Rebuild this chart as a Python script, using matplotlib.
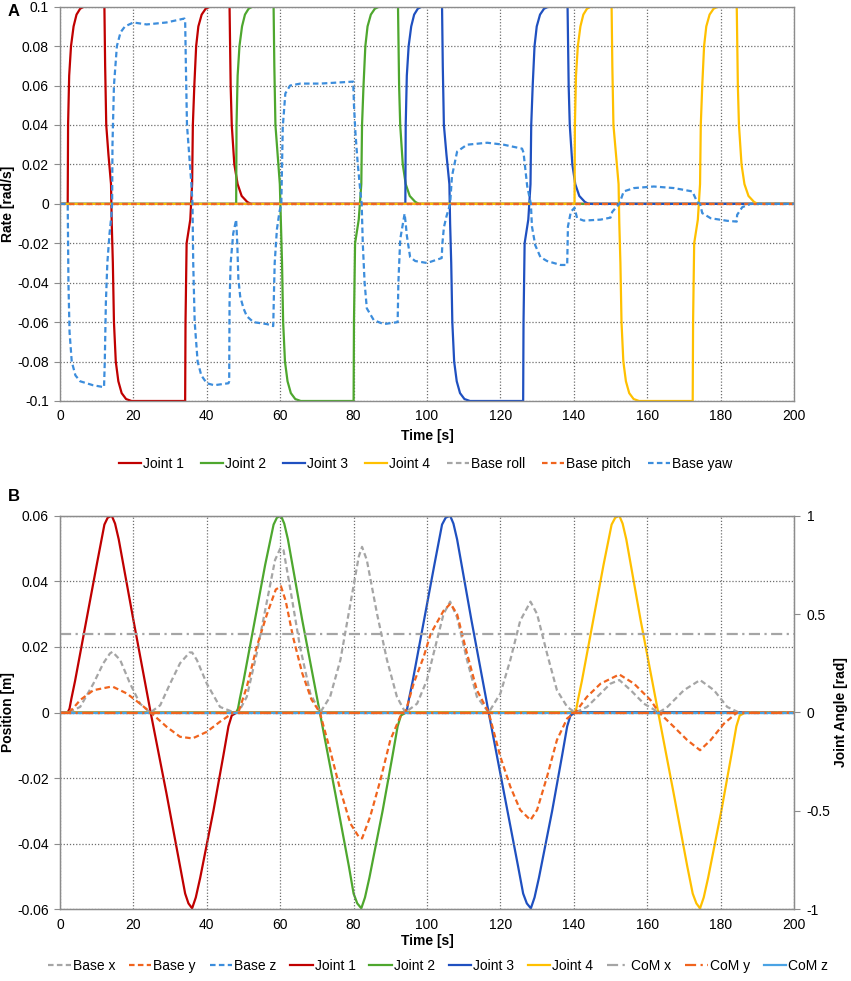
import matplotlib
matplotlib.use("Agg")
import matplotlib.pyplot as plt
from matplotlib.ticker import FuncFormatter

plt.rcParams["font.family"] = ["Liberation Sans", "DejaVu Sans"]
plt.rcParams["axes.unicode_minus"] = False

# ---- panel A: rates [rad/s] ----
# one read-off joint-rate profile, each joint has its own time stamps
JOINT_RATE = [0, 0, 0.04, 0.065, 0.08, 0.09, 0.096, 0.099, 0.1,
              0.1, 0.07, 0.04, 0.025, 0.01,
              -0.01, -0.03, -0.06, -0.08, -0.09, -0.096, -0.099, -0.1,
              -0.1, -0.06, -0.02, -0.014, -0.008,
              0.01, 0.04, 0.06, 0.08, 0.09, 0.096, 0.099, 0.1,
              0.1, 0.06, 0.04, 0.02, 0.01, 0.004, 0.001, 0, 0]
T_J1 = [0, 2.1, 2.2, 2.5, 3.0, 3.7, 4.5, 5.5, 6.5, 12.1, 12.3, 12.6, 13.2, 13.9,
        14.1, 14.4, 14.7, 15.2, 15.9, 16.8, 18.0, 19.5, 34.1, 34.2, 34.5, 35.0, 35.5,
        36.0, 36.2, 36.6, 37.1, 37.7, 38.6, 39.7, 40.9, 46.2, 46.5, 46.8, 47.5, 48.4,
        49.5, 51.0, 52.0, 200]
T_J2 = [0, 48.0, 48.1, 48.4, 48.9, 49.6, 50.4, 51.4, 52.4, 58.2, 58.4, 58.7, 59.3, 59.9,
        60.2, 60.5, 60.8, 61.3, 62.0, 62.9, 64.1, 65.6, 80.0, 80.1, 80.4, 80.9, 81.4,
        82.1, 82.3, 82.7, 83.2, 83.8, 84.7, 85.8, 87.0, 92.1, 92.4, 92.7, 93.4, 94.2,
        95.3, 96.8, 97.8, 200]
T_J3 = [0, 94.1, 94.2, 94.5, 95.0, 95.7, 96.5, 97.5, 98.5, 104.1, 104.3, 104.6, 105.3, 106.1,
        106.3, 106.6, 106.9, 107.4, 108.1, 109.0, 110.2, 111.7, 126.2, 126.3, 126.6, 127.1, 127.6,
        128.2, 128.4, 128.8, 129.3, 129.9, 130.8, 131.9, 133.1, 138.3, 138.6, 138.9, 139.6, 140.4,
        141.5, 143.0, 144.0, 200]
T_J4 = [0, 140.2, 140.3, 140.6, 141.1, 141.8, 142.6, 143.6, 144.6, 150.3, 150.5, 150.8, 151.5, 152.2,
        152.4, 152.7, 153.0, 153.5, 154.2, 155.1, 156.3, 157.8, 172.4, 172.5, 172.8, 173.3, 173.8,
        174.4, 174.6, 175.0, 175.5, 176.1, 177.0, 178.1, 179.3, 184.4, 184.7, 185.0, 185.7, 186.5,
        187.6, 189.1, 190.1, 200]
BASE_ROLL_RATE = [(0, 0), (200, 0)]
BASE_PITCH_RATE = [(0, 0), (200, 0)]
BASE_YAW_RATE = [
    (0, 0), (2.1, 0), (2.3, -0.04), (2.6, -0.065), (3.2, -0.08), (4.2, -0.087), (5.5, -0.09),
    (9.0, -0.092), (12.0, -0.093), (12.2, -0.08), (12.5, -0.05), (12.9, -0.03), (13.5, -0.015),
    (14.0, -0.006), (14.2, 0.0), (14.3, 0.03), (14.7, 0.06), (15.5, 0.08), (16.5, 0.087),
    (17.7, 0.09), (20.0, 0.092), (23.6, 0.091), (29.0, 0.092), (33.9, 0.094), (34.1, 0.093),
    (34.3, 0.07), (34.6, 0.04), (35.2, 0.025), (35.8, 0.01), (36.1, 0.0), (36.3, -0.03),
    (36.7, -0.06), (37.5, -0.08), (38.5, -0.087), (40.0, -0.091), (42.0, -0.092), (45.9, -0.091),
    (46.1, -0.09), (46.2, -0.05), (46.5, -0.03), (47.2, -0.015), (48.0, -0.008), (48.3, -0.02),
    (48.6, -0.038), (49.1, -0.047), (50.0, -0.053), (50.9, -0.057), (52.7, -0.06), (56.4, -0.061),
    (58.1, -0.062), (58.3, -0.045), (58.5, -0.03), (59.1, -0.013), (59.8, -0.004), (60.3, 0.0),
    (60.7, 0.039), (61.4, 0.056), (62.7, 0.06), (65.5, 0.061), (70.9, 0.061), (79.9, 0.062),
    (80.1, 0.05), (80.5, 0.036), (81.1, 0.021), (81.8, 0.007), (82.2, 0.0), (82.5, -0.02),
    (83.0, -0.04), (83.6, -0.053), (85.5, -0.059), (88.2, -0.061), (92.0, -0.06), (92.2, -0.04),
    (92.7, -0.018), (93.9, -0.005), (94.2, -0.01), (94.5, -0.016), (95.4, -0.027), (96.8, -0.029),
    (100.0, -0.03), (104.0, -0.0275), (104.2, -0.02), (104.6, -0.012), (105.3, -0.0064),
    (106.3, 0.0), (106.8, 0.014), (108.2, 0.0265), (110.9, 0.030), (116.4, 0.031), (120.9, 0.030),
    (125.9, 0.028), (126.3, 0.026), (127.3, 0.009), (128.3, 0.0), (128.6, -0.0115), (129.5, -0.021),
    (130.9, -0.027), (132.7, -0.029), (136.4, -0.031), (138.2, -0.031), (138.4, -0.0115),
    (139.2, -0.004), (140.2, -0.002), (140.9, -0.0073), (142.7, -0.0085), (147.3, -0.008),
    (150.0, -0.007), (150.5, -0.004), (152.4, 0.0), (153.6, 0.0063), (156.4, 0.008),
    (161.8, 0.0088), (167.3, 0.008), (172.3, 0.0063), (173.6, 0.001), (174.4, 0.0),
    (175.0, -0.0047), (177.3, -0.0073), (181.8, -0.0086), (184.4, -0.009), (184.5, -0.0056),
    (185.9, -0.0017), (188.2, 0.0), (200, 0)]

# ---- panel B: joint angles [rad] (right axis) ----
JOINT_ANGLE = [0, 0, 0.02, 0.07, 0.16, 0.35, 0.55, 0.75, 0.955,
               0.99, 1.0, 0.96, 0.88, 0.47, 0.0,
               -0.41, -0.78, -0.92, -0.97, -0.995,
               -0.94, -0.84, -0.5, -0.22, -0.07, -0.015, 0, 0]
T_A1 = [0, 2.1, 2.6, 3.1, 4.1, 6.0, 8.0, 10.0, 12.1, 13.0, 14.1, 15.0, 16.0, 20.0, 24.7,
        29.0, 32.7, 34.1, 35.0, 36.0, 37.0, 38.2, 41.8, 44.5, 45.9, 46.8, 48.2, 200]
T_A2 = [0, 48.0, 48.5, 49.0, 50.0, 51.9, 53.9, 55.9, 58.2, 59.1, 60.2, 61.1, 62.1, 66.0, 70.8,
        75.0, 78.7, 80.0, 81.0, 82.1, 83.1, 84.3, 87.9, 90.6, 92.0, 92.9, 94.3, 200]
T_A3 = [0, 94.1, 94.6, 95.1, 96.1, 98.0, 100.0, 102.0, 104.1, 105.1, 106.3, 107.2, 108.2, 112.1, 116.8,
        121.0, 124.8, 126.2, 127.2, 128.3, 129.3, 130.5, 134.1, 136.8, 138.2, 139.1, 140.5, 200]
T_A4 = [0, 140.2, 140.7, 141.2, 142.2, 144.1, 146.1, 148.1, 150.3, 151.3, 152.4, 153.3, 154.3, 158.2, 163.0,
        167.2, 170.9, 172.4, 173.4, 174.4, 175.4, 176.6, 180.2, 182.9, 184.3, 185.2, 186.8, 200]

# ---- panel B: positions [m] (left axis) ----
BASE_X = [
    (0, 0), (2.3, 0), (5.5, 0.0017), (9.1, 0.0088), (11.8, 0.015), (13.6, 0.018), (14.3, 0.0185),
    (16.4, 0.016), (19.1, 0.0088), (21.8, 0.0027), (24.6, 0), (27.3, 0.0022), (30.0, 0.0088),
    (32.7, 0.015), (35.3, 0.0183), (36.0, 0.0183), (37.3, 0.016), (40.0, 0.0088), (43.6, 0.0017),
    (47.5, 0), (48.6, 0), (50.9, 0.0048), (53.6, 0.018), (56.4, 0.034), (58.6, 0.0465),
    (60.1, 0.0502), (60.9, 0.0495), (62.7, 0.038), (65.4, 0.020), (68.2, 0.0058), (70.9, 0),
    (73.6, 0.0048), (76.4, 0.016), (79.1, 0.033), (81.4, 0.0475), (82.3, 0.0505), (83.6, 0.0465),
    (86.4, 0.030), (89.1, 0.016), (91.8, 0.0048), (94.1, 0), (97.3, 0.0027), (100.0, 0.0099),
    (101.8, 0.018), (104.5, 0.030), (106.3, 0.0338), (108.2, 0.029), (110.9, 0.016),
    (113.6, 0.0048), (116.8, 0), (120.0, 0.0058), (122.7, 0.016), (125.4, 0.028), (128.2, 0.0338),
    (130.0, 0.030), (132.7, 0.018), (135.4, 0.0068), (138.2, 0.0017), (140.4, 0), (143.6, 0.0017),
    (147.3, 0.0058), (150.0, 0.0088), (152.4, 0.0099), (155.5, 0.0068), (159.1, 0.0027),
    (163.2, 0), (165.5, 0.0017), (170.0, 0.0068), (174.4, 0.0099), (178.2, 0.0068),
    (181.8, 0.0017), (185.0, 0), (200, 0)]
BASE_Y = [
    (0, 0), (2.3, 0), (3.5, 0.0012), (5.5, 0.0038), (9.1, 0.0068), (13.6, 0.0078), (14.5, 0.0078),
    (18.2, 0.0058), (21.8, 0.0027), (24.7, 0), (29.1, -0.0044), (32.7, -0.0074), (36.1, -0.0079),
    (40.0, -0.0059), (43.6, -0.0028), (47.3, 0), (48.6, 0), (50.9, 0.0078), (53.6, 0.020),
    (56.4, 0.030), (58.8, 0.0375), (60.2, 0.0385), (61.5, 0.034), (63.5, 0.023), (66.0, 0.012),
    (68.5, 0.004), (70.8, 0), (73.6, -0.0115), (76.4, -0.0237), (79.1, -0.0338), (81.4, -0.0379),
    (82.3, -0.0384), (84.5, -0.0318), (87.3, -0.0206), (90.0, -0.0084), (92.7, -0.0013),
    (94.1, 0), (96.4, 0.009), (99.1, 0.017), (101.0, 0.024), (104.5, 0.031), (106.4, 0.0332),
    (108.2, 0.030), (110.9, 0.018), (113.6, 0.0068), (116.8, 0), (120.0, -0.0135),
    (122.7, -0.0226), (125.4, -0.0297), (128.2, -0.0328), (130.0, -0.0297), (132.7, -0.0196),
    (135.4, -0.0084), (138.2, -0.0018), (140.4, 0), (143.6, 0.0048), (147.3, 0.0088),
    (152.4, 0.0116), (156.4, 0.0088), (160.9, 0.0038), (163.2, 0), (167.3, -0.0044),
    (170.9, -0.0084), (174.4, -0.0115), (177.3, -0.0084), (180.9, -0.0034), (184.5, 0), (200, 0)]
BASE_Z = [(0, 0), (200, 0)]
COM_X = [(0, 0.024), (200, 0.024)]
COM_Y = [(0, 0), (200, 0)]
COM_Z = [(0, 0), (200, 0)]

RATE_TICKS = [-0.1, -0.08, -0.06, -0.04, -0.02, 0, 0.02, 0.04, 0.06, 0.08, 0.1]
POS_TICKS = [-0.06, -0.04, -0.02, 0, 0.02, 0.04, 0.06]
ANGLE_TICKS = [-1, -0.5, 0, 0.5, 1]
TIME_TICKS = [0, 20, 40, 60, 80, 100, 120, 140, 160, 180, 200]

RED, GREEN, BLUE, YELLOW = "#C00000", "#4EA72E", "#1F50C0", "#FFC000"
GRAY, ORANGE, SKY, LIGHTSKY = "#A5A5A5", "#F0641E", "#3C8DDC", "#4AA3E4"
AXC = "#8C8C8C"
DASH = (2.5, 1.5)
DASHDOT = (5, 2, 1, 2)
LW = 1.6

fmt = FuncFormatter(lambda v, p: f"{v:g}")


def xy(pairs):
    return [p[0] for p in pairs], [p[1] for p in pairs]


def style(ax):
    ax.set_xlim(0, 200)
    ax.set_xticks(TIME_TICKS)
    ax.xaxis.set_major_formatter(fmt)
    ax.yaxis.set_major_formatter(fmt)
    ax.grid(True, color="#6E6E6E", linestyle=(0, (1, 1.5)), linewidth=0.9)
    for s in ax.spines.values():
        s.set_color(AXC)
        s.set_linewidth(1.0)
    ax.tick_params(colors=AXC, labelcolor="black", labelsize=10, length=4, pad=4)
    ax.tick_params(axis="x", length=0, pad=6)
    ax.set_xlabel("Time [s]", fontsize=10, fontweight="bold")


fig = plt.figure(figsize=(8.51, 9.81), dpi=100)

# ---------------- panel A ----------------
axA = fig.add_axes([60 / 851, 1 - 401 / 981, 734 / 851, 394.3 / 981])
for t, lab, c in [(T_J1, "Joint 1", RED), (T_J2, "Joint 2", GREEN),
                  (T_J3, "Joint 3", BLUE), (T_J4, "Joint 4", YELLOW)]:
    axA.plot(t, JOINT_RATE, color=c, lw=LW, label=lab)
axA.plot(*xy(BASE_ROLL_RATE), color=GRAY, lw=LW, dashes=DASH, label="Base roll")
axA.plot(*xy(BASE_PITCH_RATE), color=ORANGE, lw=LW, dashes=DASH, label="Base pitch")
axA.plot(*xy(BASE_YAW_RATE), color=SKY, lw=LW, dashes=DASH, label="Base yaw")
style(axA)
axA.set_ylim(-0.1, 0.1)
axA.set_yticks(RATE_TICKS)
axA.set_ylabel("Rate [rad/s]", fontsize=10, fontweight="bold", va="center")
axA.yaxis.set_label_coords(-0.071, 0.5)
axA.xaxis.set_label_coords(0.5, -0.071)
fig.legend(*axA.get_legend_handles_labels(), loc="center", bbox_to_anchor=(0.5, 1 - 464 / 981),
           ncol=7, frameon=False, fontsize=10, handlelength=1.6, handletextpad=0.15,
           columnspacing=1.2)

# ---------------- panel B ----------------
axB = fig.add_axes([60 / 851, 1 - 909.3 / 981, 734 / 851, 393.6 / 981])
axJ = axB.twinx()
hb = {}
hb["Base x"], = axB.plot(*xy(BASE_X), color=GRAY, lw=LW, dashes=DASH, label="Base x")
hb["Base y"], = axB.plot(*xy(BASE_Y), color=ORANGE, lw=LW, dashes=DASH, label="Base y")
hb["Base z"], = axB.plot(*xy(BASE_Z), color=SKY, lw=LW, dashes=DASH, label="Base z")
hb["CoM x"], = axB.plot(*xy(COM_X), color=GRAY, lw=LW, dashes=DASHDOT, label="CoM x")
hb["CoM z"], = axB.plot(*xy(COM_Z), color=LIGHTSKY, lw=LW, label="CoM z")
hb["CoM y"], = axB.plot(*xy(COM_Y), color=ORANGE, lw=LW, dashes=DASHDOT, label="CoM y")
for t, lab, c in [(T_A1, "Joint 1", RED), (T_A2, "Joint 2", GREEN),
                  (T_A3, "Joint 3", BLUE), (T_A4, "Joint 4", YELLOW)]:
    hb[lab], = axJ.plot(t, JOINT_ANGLE, color=c, lw=LW, label=lab)
# position axis drawn over the joint-angle axis
axB.set_zorder(axJ.get_zorder() + 1)
axB.patch.set_visible(False)

style(axB)
axB.set_ylim(-0.06, 0.06)
axB.set_yticks(POS_TICKS)
axB.set_ylabel("Position [m]", fontsize=10, fontweight="bold", va="center")
axB.yaxis.set_label_coords(-0.071, 0.5)
axB.xaxis.set_label_coords(0.5, -0.062)

axJ.set_ylim(-1, 1)
axJ.set_yticks(ANGLE_TICKS)
axJ.yaxis.set_major_formatter(fmt)
for s in axJ.spines.values():
    s.set_color(AXC)
axJ.tick_params(colors=AXC, labelcolor="black", labelsize=10, length=4, pad=5)
axJ.set_ylabel("Joint Angle [rad]", fontsize=10, fontweight="bold", va="center", rotation=90)
axJ.yaxis.set_label_coords(1.064, 0.5)

order = ["Base x", "Base y", "Base z", "Joint 1", "Joint 2", "Joint 3", "Joint 4",
         "CoM x", "CoM y", "CoM z"]
fig.legend([hb[k] for k in order], order, loc="center", bbox_to_anchor=(0.515, 1 - 966 / 981),
           ncol=10, frameon=False, fontsize=10, handlelength=1.6, handletextpad=0.15,
           columnspacing=1.0)

fig.text(8 / 851, 1 - 12 / 981, "A", fontsize=12, fontweight="bold", va="center", ha="left")
fig.text(8 / 851, 1 - 497 / 981, "B", fontsize=12, fontweight="bold", va="center", ha="left")

fig.savefig("out.png", dpi=100)
